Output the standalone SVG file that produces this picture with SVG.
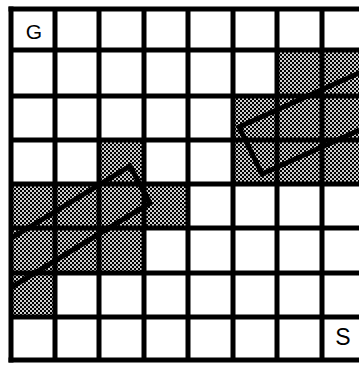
<svg xmlns="http://www.w3.org/2000/svg" width="359" height="365" viewBox="0 0 359 365">
  <defs>
    <pattern id="dots" width="4" height="4" patternUnits="userSpaceOnUse">
      <rect width="4" height="4" fill="#000"/>
      <rect x="0.1" y="0.1" width="1.8" height="1.8" fill="#fff"/>
      <rect x="2.1" y="2.1" width="1.8" height="1.8" fill="#fff"/>
    </pattern>
    <clipPath id="gridclip">
      <rect x="11" y="9" width="360" height="351"/>
    </clipPath>
  </defs>
  <style>
    .sh { fill: url(#dots); }
    .gl { stroke: #000; stroke-width: 5; fill: none; }
    .box { stroke: #000; stroke-width: 5; fill: none; stroke-linejoin: miter; }
    .lbl { font-family: "Liberation Sans", Arial, sans-serif; fill: #000; text-anchor: middle; }
  </style>
  <rect width="359" height="365" fill="#fff"/>

  <g id="shading">
    <rect class="sh" x="277" y="50" width="89" height="46"/>
    <rect class="sh" x="233" y="96" width="133" height="88"/>
    <rect class="sh" x="99" y="140" width="45" height="44"/>
    <rect class="sh" x="11" y="184" width="177" height="44"/>
    <rect class="sh" x="11" y="228" width="133" height="45"/>
    <rect class="sh" x="11" y="273" width="44" height="44"/>
  </g>

  <g id="boxes" clip-path="url(#gridclip)">
    <polygon id="box-lower" class="box" points="130,166 150,203 -21,307 -41,270"/>
    <polygon id="box-upper" class="box" points="239,127 262,174 444,92 421,45"/>
  </g>

  <g id="grid">
    <path class="gl" d="M11,6.5 V362.5 M55,9 V360 M99,9 V360 M144,9 V360 M188,9 V360 M233,9 V360 M277,9 V360 M322,9 V360"/>
    <path class="gl" d="M8.5,9 H359 M11,50 H359 M11,96 H359 M11,140 H359 M11,184 H359 M11,228 H359 M11,273 H359 M11,317 H359 M8.5,360 H359"/>
  </g>

  <g id="labels">
    <text class="lbl" x="34" y="39" font-size="21">G</text>
    <text class="lbl" x="343" y="345" font-size="23">S</text>
  </g>
</svg>
